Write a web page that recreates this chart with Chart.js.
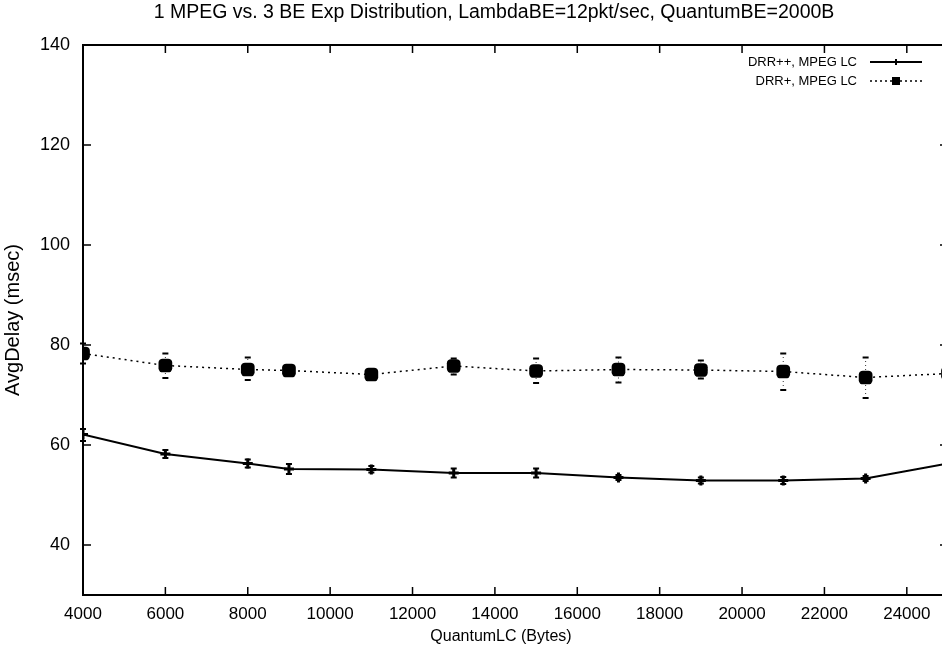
<!DOCTYPE html>
<html>
<head>
<meta charset="utf-8">
<script src="https://cdn.jsdelivr.net/npm/chart.js@4.4.1/dist/chart.umd.min.js"></script>
<style>
html,body{margin:0;padding:0;background:#fff;overflow:hidden;}
#wrap{width:942px;height:654px;overflow:hidden;}
canvas{display:block;}
</style>
</head>
<body>
<div id="wrap"><canvas id="c" width="960" height="654"></canvas></div>
<script>
const titleText = "1 MPEG vs. 3 BE Exp Distribution, LambdaBE=12pkt/sec, QuantumBE=2000B";
const xTitle = "QuantumLC (Bytes)";
const yTitle = "AvgDelay (msec)";
const quantumLC = [4000, 6000, 8000, 9000, 11000, 13000, 15000, 17000, 19000, 21000, 23000, 25000];
const seriesNames = ["DRR++, MPEG LC", "DRR+, MPEG LC"];
const drrPP = [62.1, 58.2, 56.3, 55.2, 55.1, 54.4, 54.4, 53.5, 52.9, 52.9, 53.3, 56.3];
const drrPPLow = [60.8, 57.4, 55.5, 54.2, 54.5, 53.5, 53.5, 53.0, 52.3, 52.2, 52.8, 55.2];
const drrPPHigh = [63.2, 59.0, 57.1, 56.2, 55.8, 55.3, 55.3, 54.0, 53.5, 53.6, 53.8, 57.5];
const drrP = [78.3, 75.9, 75.1, 74.9, 74.1, 75.8, 74.8, 75.1, 75.0, 74.7, 73.5, 74.3];
const drrPLow = [76.3, 73.4, 73.0, 73.8, 73.2, 74.1, 72.4, 72.5, 73.3, 71.0, 69.4, 69.0];
const drrPHigh = [80.3, 78.3, 77.5, 76.0, 75.0, 77.3, 77.3, 77.5, 76.9, 78.3, 77.5, 80.0];
const xTicks = [4000, 6000, 8000, 10000, 12000, 14000, 16000, 18000, 20000, 22000, 24000];
const yTicks = [40, 60, 80, 100, 120, 140];

const FONT = "'Liberation Sans', Arial, sans-serif";

const pts = (ys) => quantumLC.map((x, i) => ({x: x, y: ys[i]}));

const frameAndExtras = {
  id: 'frameAndExtras',
  afterDatasetsDraw(chart) {
    const ctx = chart.ctx, xs = chart.scales.x, ys = chart.scales.y;
    const errs = [[drrPPLow, drrPPHigh, [], 1.5], [drrPLow, drrPHigh, [1, 3], 0.8]];
    ctx.save();
    ctx.strokeStyle = '#000';
    errs.forEach((e) => {
      quantumLC.forEach((x, i) => {
        const px = xs.getPixelForValue(x);
        const lo = ys.getPixelForValue(e[0][i]);
        const hi = ys.getPixelForValue(e[1][i]);
        ctx.lineWidth = e[3];
        ctx.setLineDash(e[2]);
        ctx.beginPath(); ctx.moveTo(px, lo); ctx.lineTo(px, hi); ctx.stroke();
        ctx.setLineDash([]);
        ctx.lineWidth = 1.8;
        ctx.beginPath();
        ctx.moveTo(px - 3, lo); ctx.lineTo(px + 3, lo);
        ctx.moveTo(px - 3, hi); ctx.lineTo(px + 3, hi);
        ctx.stroke();
      });
    });
    ctx.restore();
  },
  afterDraw(chart) {
    const ctx = chart.ctx, ca = chart.chartArea, xs = chart.scales.x, ys = chart.scales.y;
    ctx.save();
    ctx.strokeStyle = '#000';
    ctx.lineWidth = 2;
    ctx.strokeRect(ca.left, ca.top, ca.right - ca.left, ca.bottom - ca.top);
    ctx.lineWidth = 1.5;
    ctx.beginPath();
    xTicks.forEach((v) => {
      const px = xs.getPixelForValue(v);
      ctx.moveTo(px, ca.bottom); ctx.lineTo(px, ca.bottom - 8);
      ctx.moveTo(px, ca.top); ctx.lineTo(px, ca.top + 8);
    });
    yTicks.forEach((v) => {
      const py = ys.getPixelForValue(v);
      ctx.moveTo(ca.left, py); ctx.lineTo(ca.left + 8, py);
      ctx.moveTo(ca.right, py); ctx.lineTo(ca.right - 8, py);
    });
    ctx.stroke();
    ctx.fillStyle = '#000';
    ctx.textAlign = 'center';
    ctx.textBaseline = 'middle';
    // chart title
    ctx.font = '19.5px ' + FONT;
    ctx.fillText(titleText, 494, 13);
    // x axis title
    ctx.font = '16px ' + FONT;
    ctx.fillText(xTitle, 501, 637);
    // legend
    ctx.font = '13px ' + FONT;
    ctx.textAlign = 'right';
    const tx = ca.right - 91;
    const rows = [ca.top + 17, ca.top + 36];
    ctx.fillText(seriesNames[0], tx, rows[0]);
    ctx.fillText(seriesNames[1], tx, rows[1]);
    const sx0 = ca.right - 78, sx1 = ca.right - 26, mx = ca.right - 52;
    ctx.lineWidth = 2;
    ctx.beginPath(); ctx.moveTo(sx0, rows[0]); ctx.lineTo(sx1, rows[0]); ctx.stroke();
    ctx.beginPath(); ctx.moveTo(mx - 3, rows[0]); ctx.lineTo(mx + 3, rows[0]); ctx.moveTo(mx, rows[0] - 3); ctx.lineTo(mx, rows[0] + 3); ctx.stroke();
    ctx.lineWidth = 1.5;
    ctx.setLineDash([2, 3]);
    ctx.beginPath(); ctx.moveTo(sx0, rows[1]); ctx.lineTo(sx1, rows[1]); ctx.stroke();
    ctx.setLineDash([]);
    ctx.fillRect(mx - 4, rows[1] - 4, 8, 8);
    ctx.restore();
  }
};

new Chart(document.getElementById('c'), {
  type: 'line',
  data: {
    datasets: [
      {
        label: seriesNames[0],
        data: pts(drrPP),
        borderColor: '#000',
        backgroundColor: '#000',
        borderWidth: 2,
        pointStyle: 'cross',
        pointRadius: 5,
        pointBorderWidth: 3,
        tension: 0
      },
      {
        label: seriesNames[1],
        data: pts(drrP),
        borderColor: '#000',
        backgroundColor: '#000',
        borderWidth: 1.5,
        borderDash: [2, 4],
        pointStyle: 'rectRounded',
        pointRadius: 8,
        pointBorderWidth: 0,
        tension: 0
      }
    ]
  },
  options: {
    responsive: false,
    animation: false,
    layout: { padding: { left: 0, right: 12, top: 45, bottom: 0 } },
    plugins: {
      legend: { display: false },
      tooltip: { enabled: false },
      title: { display: false }
    },
    scales: {
      x: {
        type: 'linear',
        min: 4000,
        max: 25000,
        afterBuildTicks: (s) => { s.ticks = xTicks.map((v) => ({ value: v })); },
        afterFit: (s) => { s.height = 59; },
        grid: { display: false, drawTicks: false },
        border: { display: false },
        ticks: { color: '#000', font: { family: FONT, size: 17 }, padding: 9, maxRotation: 0, autoSkip: false, callback: (v) => String(v) },
        title: { display: false }
      },
      y: {
        type: 'linear',
        min: 30,
        max: 140,
        afterBuildTicks: (s) => { s.ticks = yTicks.map((v) => ({ value: v })); },
        afterFit: (s) => { s.width = 83; },
        grid: { display: false, drawTicks: false },
        border: { display: false },
        ticks: { color: '#000', font: { family: FONT, size: 18 }, padding: 13, autoSkip: false, callback: (v) => String(v) },
        title: { display: true, text: yTitle, color: '#000', font: { family: FONT, size: 20 }, padding: { top: 1, bottom: 0 } }
      }
    }
  },
  plugins: [frameAndExtras]
});
</script>
</body>
</html>
